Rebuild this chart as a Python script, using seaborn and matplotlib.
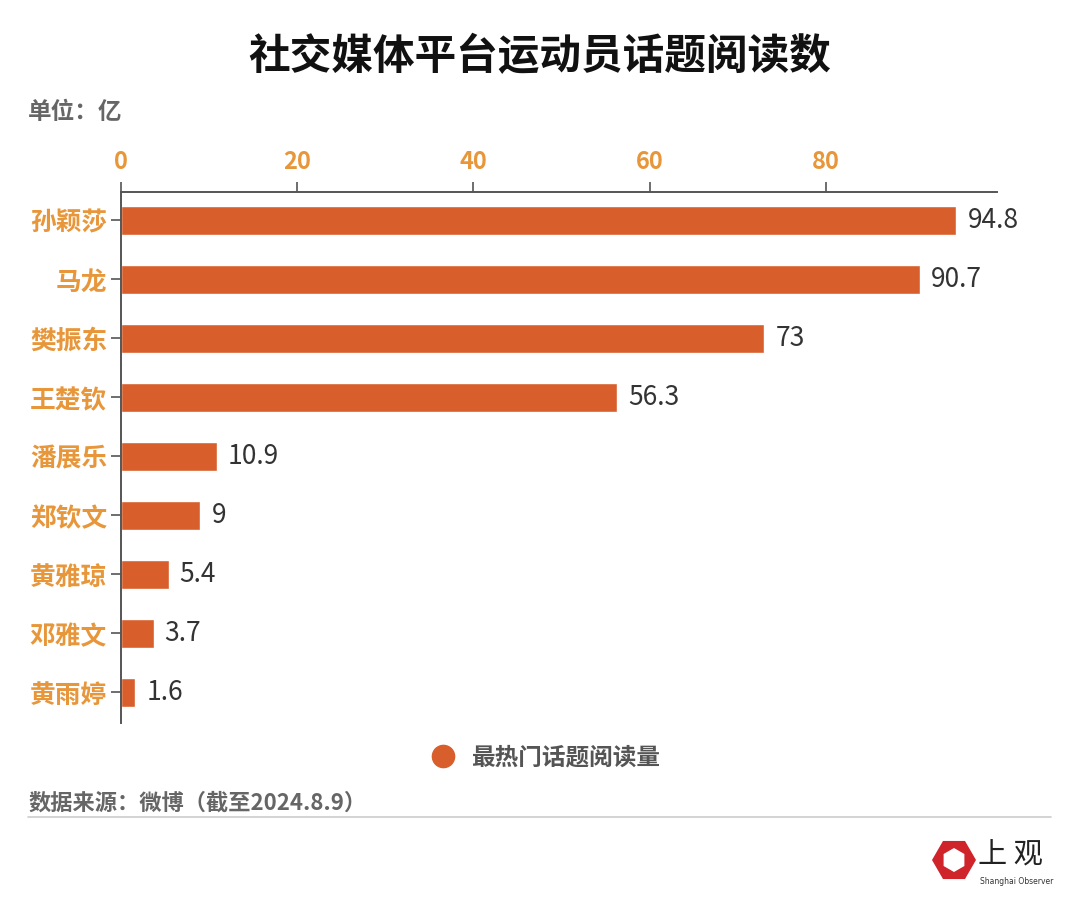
import matplotlib
matplotlib.use("Agg")
import matplotlib.pyplot as plt
from matplotlib.lines import Line2D
from matplotlib.patches import RegularPolygon
import pandas as pd
import seaborn as sns

# data
players = ["孙颖莎", "马龙", "樊振东", "王楚钦", "潘展乐", "郑钦文", "黄雅琼", "邓雅文", "黄雨婷"]
reads = [94.8, 90.7, 73, 56.3, 10.9, 9, 5.4, 3.7, 1.6]
value_labels = ["94.8", "90.7", "73", "56.3", "10.9", "9", "5.4", "3.7", "1.6"]
x_ticks = [0, 20, 40, 60, 80]

title = "社交媒体平台运动员话题阅读数"
unit_text = "单位：亿"
legend_text = "最热门话题阅读量"
source_text = "数据来源：微博（截至2024.8.9）"

bar_color = "#D85E2C"
label_orange = "#E8963A"
axis_gray = "#555555"

sns.set_theme(style="white")
plt.rcParams["font.family"] = ["Noto Sans CJK SC", "DejaVu Sans"]

df = pd.DataFrame({"player": players, "reads": reads})

fig = plt.figure(figsize=(10.8, 9.18), dpi=100)
ax = fig.add_axes([0.112, 0.2124, 0.811, 0.5784])

sns.barplot(data=df, x="reads", y="player", color=bar_color, width=0.5,
            saturation=1, ax=ax)

ax.set_xlim(0, 99.4)
ax.set_ylim(8.52, -0.48)
ax.set_xlabel("")
ax.set_ylabel("")

# axis on top
ax.xaxis.tick_top()
ax.set_xticks(x_ticks)
ax.tick_params(axis="x", which="both", top=True, bottom=False, direction="out",
               length=7, width=1.2, color=axis_gray, pad=6,
               labelsize=17, labelcolor=label_orange)
ax.tick_params(axis="y", left=True, direction="out", length=7, width=1.2,
               color=axis_gray, pad=3, labelsize=18.5, labelcolor=label_orange)
for lab in ax.get_xticklabels() + ax.get_yticklabels():
    lab.set_fontweight("bold")

for side in ["right", "bottom"]:
    ax.spines[side].set_visible(False)
for side in ["top", "left"]:
    ax.spines[side].set_color(axis_gray)
    ax.spines[side].set_linewidth(1.4)

ax.bar_label(ax.containers[0], labels=value_labels, padding=8,
             fontsize=19, color="#333333")

# title and notes
fig.text(0.5, 0.938, title, ha="center", va="center", fontsize=30,
         fontweight="bold", color="#111111")
fig.text(0.026, 0.878, unit_text, ha="left", va="center", fontsize=17,
         fontweight="bold", color="#666666")

handle = Line2D([], [], marker="o", linestyle="none", markersize=16,
                markerfacecolor=bar_color, markeredgecolor=bar_color)
fig.legend([handle], [legend_text], loc="center", bbox_to_anchor=(0.5, 0.175),
           frameon=False, handletextpad=0.2,
           prop={"size": 17, "weight": "bold"}, labelcolor="#555555")

fig.text(0.026, 0.125, source_text, ha="left", va="center", fontsize=16,
         fontweight="bold", color="#666666")
fig.add_artist(Line2D([0.026, 0.973], [0.110, 0.110], color="#CCCCCC",
                      linewidth=1.2, transform=fig.transFigure))

# logo, placed in inches so the hexagon stays regular
fig.add_artist(RegularPolygon((9.54, 0.58), numVertices=6, radius=0.22,
                              orientation=0.5236, facecolor="#D0242B",
                              edgecolor="none", transform=fig.dpi_scale_trans))
fig.add_artist(RegularPolygon((9.54, 0.58), numVertices=6, radius=0.12,
                              orientation=0.0, facecolor="white",
                              edgecolor="none", transform=fig.dpi_scale_trans))
fig.text(0.906, 0.068, "上 观", ha="left", va="center", fontsize=21,
         color="#222222")
fig.text(0.907, 0.040, "Shanghai Observer", ha="left", va="center",
         fontsize=5.5, color="#333333", family="DejaVu Sans")

fig.savefig("out.png", dpi=100, facecolor="white")
